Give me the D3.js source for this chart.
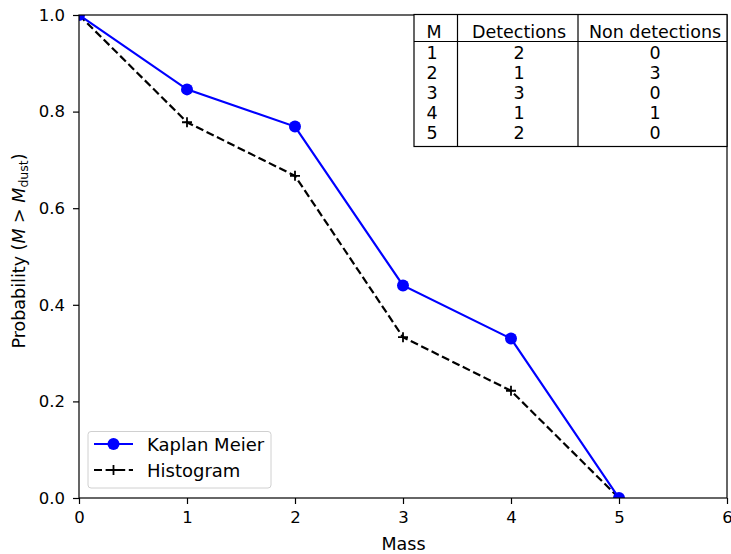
<!DOCTYPE html>
<html><head><meta charset="utf-8">
<script src="https://cdn.jsdelivr.net/npm/d3@7"></script>
<style>body{margin:0;background:#fff}svg{display:block}text{font-family:"DejaVu Sans",sans-serif;}</style>
</head><body>
<svg id="c" width="731" height="554"></svg>
<script>
const masses = [0, 1, 2, 3, 4, 5];
const kaplanMeier = [1.0, 0.846, 0.769, 0.44, 0.33, 0.0];
const histogram = [1.0, 0.778, 0.667, 0.333, 0.222, 0.0];
const xTicks = [0, 1, 2, 3, 4, 5, 6];
const yTicks = [0.0, 0.2, 0.4, 0.6, 0.8, 1.0];
const tableHeader = ["M", "Detections", "Non detections"];
const tableM = [1, 2, 3, 4, 5];
const tableDet = [2, 1, 3, 1, 2];
const tableNonDet = [0, 3, 0, 1, 0];

const svg = d3.select("#c");
const L = 79, R = 727, T = 15, B = 498;
const x = d3.scaleLinear().domain([0, 6]).range([L, R]);
const y = d3.scaleLinear().domain([0, 1]).range([B, T]);
const fsTick = 16.5, fsLab = 17.5, fsLeg = 18, fsTab = 17.5;
const dash = "8,3.6";

svg.append("defs").append("clipPath").attr("id", "clip")
  .append("rect").attr("x", L).attr("y", T).attr("width", R - L).attr("height", B - T);

const g = svg.append("g").attr("clip-path", "url(#clip)");
const line = d3.line().x((d, i) => x(masses[i])).y(d => y(d));

g.append("path").datum(histogram).attr("d", line).attr("fill", "none")
  .attr("stroke", "#000").attr("stroke-width", 2.2).attr("stroke-dasharray", dash);
g.selectAll(".plus").data(histogram).enter().append("path")
  .attr("d", (d, i) => { const cx = x(masses[i]), cy = y(d), s = 5; return `M${cx - s},${cy}H${cx + s}M${cx},${cy - s}V${cy + s}`; })
  .attr("stroke", "#000").attr("stroke-width", 1.8);

g.append("path").datum(kaplanMeier).attr("d", line).attr("fill", "none")
  .attr("stroke", "#0000ff").attr("stroke-width", 2.2);
g.selectAll(".dot").data(kaplanMeier).enter().append("circle")
  .attr("cx", (d, i) => x(masses[i])).attr("cy", d => y(d)).attr("r", 6).attr("fill", "#0000ff");

// axes
const xa = svg.append("g").attr("transform", `translate(0,${B})`)
  .call(d3.axisBottom(x).tickValues(xTicks).tickFormat(d3.format("d")).tickSize(6).tickPadding(7));
const ya = svg.append("g").attr("transform", `translate(${L},0)`)
  .call(d3.axisLeft(y).tickValues(yTicks).tickFormat(d3.format(".1f")).tickSize(6).tickPadding(8));
[xa, ya].forEach(a => {
  a.select(".domain").remove();
  a.selectAll("line").attr("stroke", "#000").attr("stroke-width", 1.2);
  a.selectAll("text").attr("font-size", fsTick).attr("fill", "#000").attr("font-family", "DejaVu Sans");
});
svg.append("rect").attr("x", L).attr("y", T).attr("width", R - L).attr("height", B - T)
  .attr("fill", "none").attr("stroke", "#000").attr("stroke-width", 1.2);

svg.append("text").attr("x", 403.5).attr("y", 550).attr("text-anchor", "middle")
  .attr("font-size", fsLab).text("Mass");
const yl = svg.append("text").attr("transform", `translate(25,251) rotate(-90)`)
  .attr("text-anchor", "middle").attr("font-size", fsLab);
yl.append("tspan").text("Probability (");
yl.append("tspan").attr("font-style", "italic").text("M");
yl.append("tspan").text(" > ");
yl.append("tspan").attr("font-style", "italic").text("M");
yl.append("tspan").attr("font-size", 12.5).attr("dy", 3).text("dust");
yl.append("tspan").attr("dy", -3).text(")");

// table
const tb = svg.append("g");
const colX = [414, 457.5, 578, 727];
const tTop = 14.5, hBot = 41.5, tBot = 146.5;
const rowBase = [59, 79, 99, 119, 139];
tb.append("rect").attr("x", colX[0]).attr("y", tTop).attr("width", colX[3] - colX[0]).attr("height", tBot - tTop)
  .attr("fill", "#fff").attr("stroke", "#000").attr("stroke-width", 1.2);
tb.append("line").attr("x1", colX[0]).attr("x2", colX[3]).attr("y1", hBot).attr("y2", hBot).attr("stroke", "#000").attr("stroke-width", 1.2);
[colX[1], colX[2]].forEach(cx => tb.append("line").attr("x1", cx).attr("x2", cx).attr("y1", tTop).attr("y2", tBot).attr("stroke", "#000").attr("stroke-width", 1.2));
const c1 = 426.5, c2 = 519, c3 = 655;
tb.append("text").attr("x", c1).attr("y", 37.5).attr("font-size", fsTab).text(tableHeader[0]);
tb.append("text").attr("x", c2).attr("y", 37.5).attr("text-anchor", "middle").attr("font-size", fsTab).text(tableHeader[1]);
tb.append("text").attr("x", c3).attr("y", 37.5).attr("text-anchor", "middle").attr("font-size", fsTab).text(tableHeader[2]);
tableM.forEach((m, i) => {
  tb.append("text").attr("x", c1).attr("y", rowBase[i]).attr("font-size", fsTab).text(m);
  tb.append("text").attr("x", c2).attr("y", rowBase[i]).attr("text-anchor", "middle").attr("font-size", fsTab).text(tableDet[i]);
  tb.append("text").attr("x", c3).attr("y", rowBase[i]).attr("text-anchor", "middle").attr("font-size", fsTab).text(tableNonDet[i]);
});

// legend
const lg = svg.append("g");
lg.append("rect").attr("x", 88).attr("y", 431.5).attr("width", 183).attr("height", 56.5).attr("rx", 3)
  .attr("fill", "#fff").attr("fill-opacity", 0.8).attr("stroke", "#d0d0d0").attr("stroke-width", 1);
lg.append("line").attr("x1", 94).attr("x2", 133).attr("y1", 444).attr("y2", 444).attr("stroke", "#0000ff").attr("stroke-width", 2.2);
lg.append("circle").attr("cx", 113.5).attr("cy", 444).attr("r", 6).attr("fill", "#0000ff");
lg.append("text").attr("x", 147).attr("y", 450.5).attr("font-size", fsLeg).text("Kaplan Meier");
lg.append("line").attr("x1", 94).attr("x2", 133).attr("y1", 470).attr("y2", 470).attr("stroke", "#000").attr("stroke-width", 2.2).attr("stroke-dasharray", dash);
lg.append("path").attr("d", "M108.5,470H118.5M113.5,465V475").attr("stroke", "#000").attr("stroke-width", 1.8);
lg.append("text").attr("x", 147).attr("y", 476.5).attr("font-size", fsLeg).text("Histogram");
</script>
</body></html>
